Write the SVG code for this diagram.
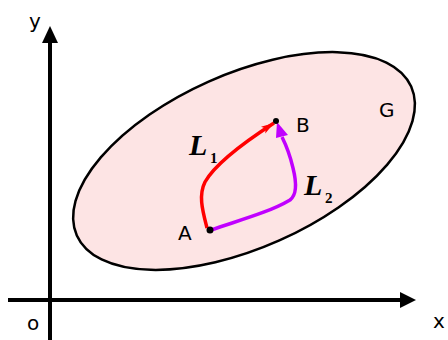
<svg xmlns="http://www.w3.org/2000/svg" width="448" height="340" viewBox="0 0 448 340">
<style>
.lbl{font-family:"DejaVu Sans","Liberation Sans",sans-serif;font-size:20px;fill:#000}
.L{font-family:"Liberation Serif","DejaVu Serif",serif;font-weight:bold;font-style:italic;font-size:30px;fill:#000}
.sub{font-family:"Liberation Serif",serif;font-weight:bold;font-size:15px;fill:#000}
.axis{stroke:#000;stroke-width:4;fill:none}
</style>
<defs>
<marker id="ar" markerWidth="14" markerHeight="10" refX="13" refY="5" orient="auto" markerUnits="userSpaceOnUse" viewBox="0 0 14 10">
<path d="M0,1 L13,5 L0,9 L3,5 Z" fill="#f00"/>
</marker>
</defs>
<g id="region">
<ellipse cx="244" cy="161" rx="183" ry="87" transform="rotate(-24 244 161)" fill="#fde4e4" stroke="#000" stroke-width="2.5"/>
<text class="lbl" x="379" y="117">G</text>
</g>
<g id="axes">
<line class="axis" x1="50" y1="340" x2="50" y2="40"/>
<path d="M50,26 L42,43 L58,43 Z" fill="#000"/>
<line class="axis" x1="8" y1="300" x2="402" y2="300"/>
<path d="M416,300 L400,292 L400,308 Z" fill="#000"/>
<text class="lbl" x="29" y="28">y</text>
<text class="lbl" x="433" y="328">x</text>
<text class="lbl" x="27" y="330">o</text>
</g>
<g id="connectors">
<path d="M207,228 C203,212 198,196 205,182 C214,166 240,145 274,123" fill="none" stroke="#f00" stroke-width="3.5" marker-end="url(#ar)"/>
<path d="M211,230 C240,220 270,212 290,200 C298,194 296,180 293,168 C290,155 286,145 282,137" fill="none" stroke="#c000ff" stroke-width="3.5"/>
<path d="M277,122 L276,138 L288,135 Z" fill="#c000ff"/>
</g>
<g id="A">
<circle cx="210" cy="230" r="3.5" fill="#000"/>
<text class="lbl" x="178" y="240">A</text>
</g>
<g id="B">
<circle cx="276" cy="121" r="3" fill="#000"/>
<text class="lbl" x="296" y="132">B</text>
</g>
<g id="L1">
<text class="L" x="189" y="155">L</text>
<text class="sub" x="210" y="163">1</text>
</g>
<g id="L2">
<text class="L" x="304" y="195">L</text>
<text class="sub" x="325" y="203">2</text>
</g>
</svg>
